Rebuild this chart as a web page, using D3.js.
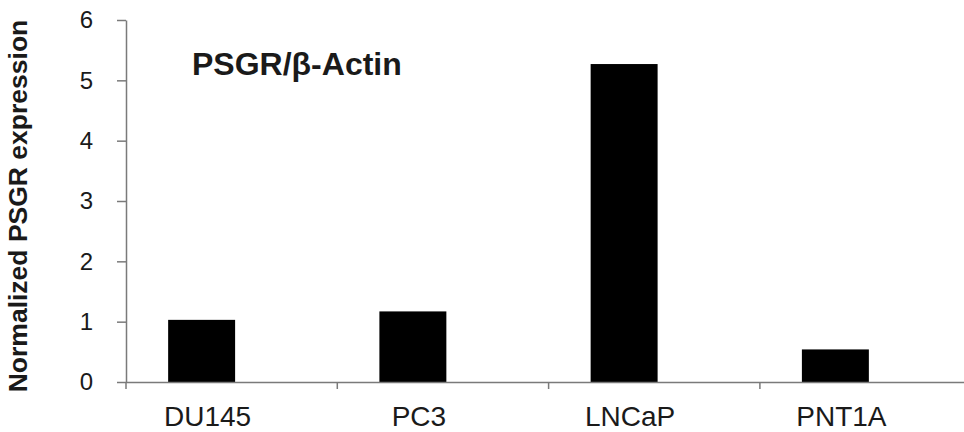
<!DOCTYPE html>
<html>
<head>
<meta charset="utf-8">
<script src="https://cdn.jsdelivr.net/npm/d3@7"></script>
<style>
  body { margin: 0; background: #fff; }
  text { font-family: "Liberation Sans", Arial, sans-serif; fill: #1a1a1a; }
</style>
</head>
<body>
<svg id="chart" width="964" height="432"></svg>
<script>
// data
const cellLines = ["DU145", "PC3", "LNCaP", "PNT1A"]
const expression = [1.03, 1.17, 5.27, 0.54]
const yTicks = [0, 1, 2, 3, 4, 5, 6]

const data = cellLines.map((c, i) => ({ name: c, value: expression[i] }))

var svg = d3.select("#chart")

var y = d3.scaleLinear()
    .domain([0, 6])
    .range([382, 20]);

// category boundaries (where the x-axis tick marks sit)
var xEdge = d3.scaleLinear()
    .domain([0, cellLines.length])
    .range([125.5, 970.7]);

// bars sit a bit left of the middle of each slot, as in the original
var x = d3.scaleBand()
    .domain(cellLines)
    .range([96, 941])
    .paddingInner(0.683)
    .paddingOuter(0.3415);

// bars
svg.append("g")
    .selectAll("rect")
    .data(data)
    .enter().append("rect")
    .attr("x", d => x(d.name))
    .attr("y", d => y(d.value))
    .attr("width", x.bandwidth())
    .attr("height", d => y(0) - y(d.value))
    .attr("fill", "#000");

// y axis
var yAxis = svg.append("g")
    .attr("transform", "translate(126,0)")
    .call(d3.axisLeft(y).tickValues(yTicks).tickFormat(d3.format("d")).tickSize(9).tickSizeOuter(0).tickPadding(24))
yAxis.selectAll("text")
    .attr("font-size", 24)
    .style("font-family", "'Liberation Sans', Arial, sans-serif")
    .attr("fill", "#1a1a1a");

// x axis (tick marks between categories, no labels)
var xAxis = svg.append("g")
    .attr("transform", "translate(0,382)")
    .call(d3.axisBottom(xEdge).tickValues(d3.range(cellLines.length)).tickFormat("").tickSize(7).tickSizeOuter(0))

svg.selectAll(".domain, .tick line")
    .attr("stroke", "#7a7a7a")
    .attr("stroke-width", 1.5);

// category labels
svg.append("g")
    .selectAll("text")
    .data(cellLines)
    .enter().append("text")
    .attr("x", d => x(d) + x.bandwidth() / 2 + 6)
    .attr("y", 426)
    .attr("text-anchor", "middle")
    .attr("font-size", 28)
    .text(d => d);

// y axis title
svg.append("text")
    .attr("transform", "translate(27,206) rotate(-90)")
    .attr("text-anchor", "middle")
    .attr("font-size", 26.5)
    .attr("font-weight", "bold")
    .text("Normalized PSGR expression");

// inner title
svg.append("text")
    .attr("x", 192)
    .attr("y", 75)
    .attr("font-size", 32)
    .attr("font-weight", "bold")
    .text("PSGR/β-Actin");
</script>
</body>
</html>
